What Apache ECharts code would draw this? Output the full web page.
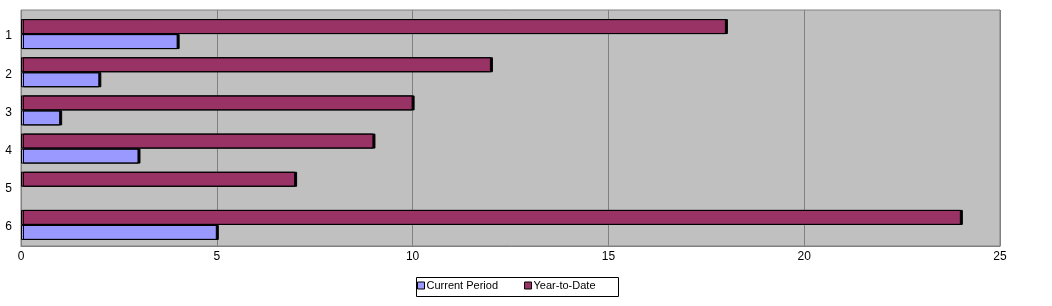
<!DOCTYPE html>
<html><head><meta charset="utf-8">
<script src="https://cdn.jsdelivr.net/npm/echarts@6/dist/echarts.min.js"></script>
<style>html,body{margin:0;padding:0;background:#fff}#c{width:1052px;height:306px}</style>
</head><body><div id="c"></div>
<script>
var categories = ['1', '2', '3', '4', '5', '6'];
var currentPeriod = [4, 2, 1, 3, 0, 5];
var yearToDate = [18, 12, 10, 9, 7, 24];
var xTicks = {min: 0, max: 25, interval: 5};

function withStyle(values, color) {
  return values.map(function (v) {
    return {value: v, itemStyle: v === 0
      ? {color: color, borderWidth: 0, shadowOffsetX: 0, shadowColor: 'transparent'}
      : {color: color, borderColor: '#000', borderWidth: 1, shadowColor: '#000', shadowOffsetX: 2, shadowBlur: 0}};
  });
}

var chart = echarts.init(document.getElementById('c'), null, {renderer: 'canvas'});
var font = 'Liberation Sans, Arial, sans-serif';
chart.setOption({
  animation: false,
  graphic: [
    {type: 'rect', left: 416, top: 277, shape: {width: 202, height: 19}, style: {fill: '#fff', stroke: '#000', lineWidth: 1}, z: 0}
  ],
  grid: [
    {left: 21, top: 10, width: 979, height: 236, show: true, backgroundColor: '#C0C0C0', borderColor: '#808080', borderWidth: 1},
    {left: 21, top: 15, width: 979, height: 229}
  ],
  xAxis: [
    {gridIndex: 0, type: 'value', min: xTicks.min, max: xTicks.max, interval: xTicks.interval,
     axisLine: {show: true, lineStyle: {color: '#808080'}}, axisTick: {show: false},
     splitLine: {show: true, lineStyle: {color: '#808080', width: 1}},
     axisLabel: {color: '#000', fontFamily: font, fontSize: 12, margin: 5}},
    {gridIndex: 1, type: 'value', min: xTicks.min, max: xTicks.max, show: false, splitLine: {show: false}}
  ],
  yAxis: [
    {gridIndex: 0, type: 'category', data: categories, show: false},
    {gridIndex: 1, type: 'category', data: categories, inverse: true,
     axisLine: {show: false}, axisTick: {show: false},
     axisLabel: {color: '#000', fontFamily: font, fontSize: 12, margin: 9, verticalAlign: 'top', padding: [-4, 0, 0, 0]}}
  ],
  legend: {
    left: 417, top: 280, itemWidth: 7, itemHeight: 7, itemGap: 26, icon: 'rect', padding: 0,
    textStyle: {fontFamily: font, fontSize: 11, color: '#000', padding: [0, 0, 0, -3]},
    data: [
      {name: 'Current Period', itemStyle: {color: '#9999FF', borderColor: '#000', borderWidth: 1}},
      {name: 'Year-to-Date', itemStyle: {color: '#993366', borderColor: '#000', borderWidth: 1}}
    ]
  },
  series: [
    {name: 'Year-to-Date', type: 'bar', xAxisIndex: 1, yAxisIndex: 1, data: withStyle(yearToDate, '#993366'), barWidth: 15, barGap: '0%',
     itemStyle: {color: '#993366'}},
    {name: 'Current Period', type: 'bar', xAxisIndex: 1, yAxisIndex: 1, data: withStyle(currentPeriod, '#9999FF'), barWidth: 15, barGap: '0%',
     itemStyle: {color: '#9999FF'}}
  ]
});
</script></body></html>
